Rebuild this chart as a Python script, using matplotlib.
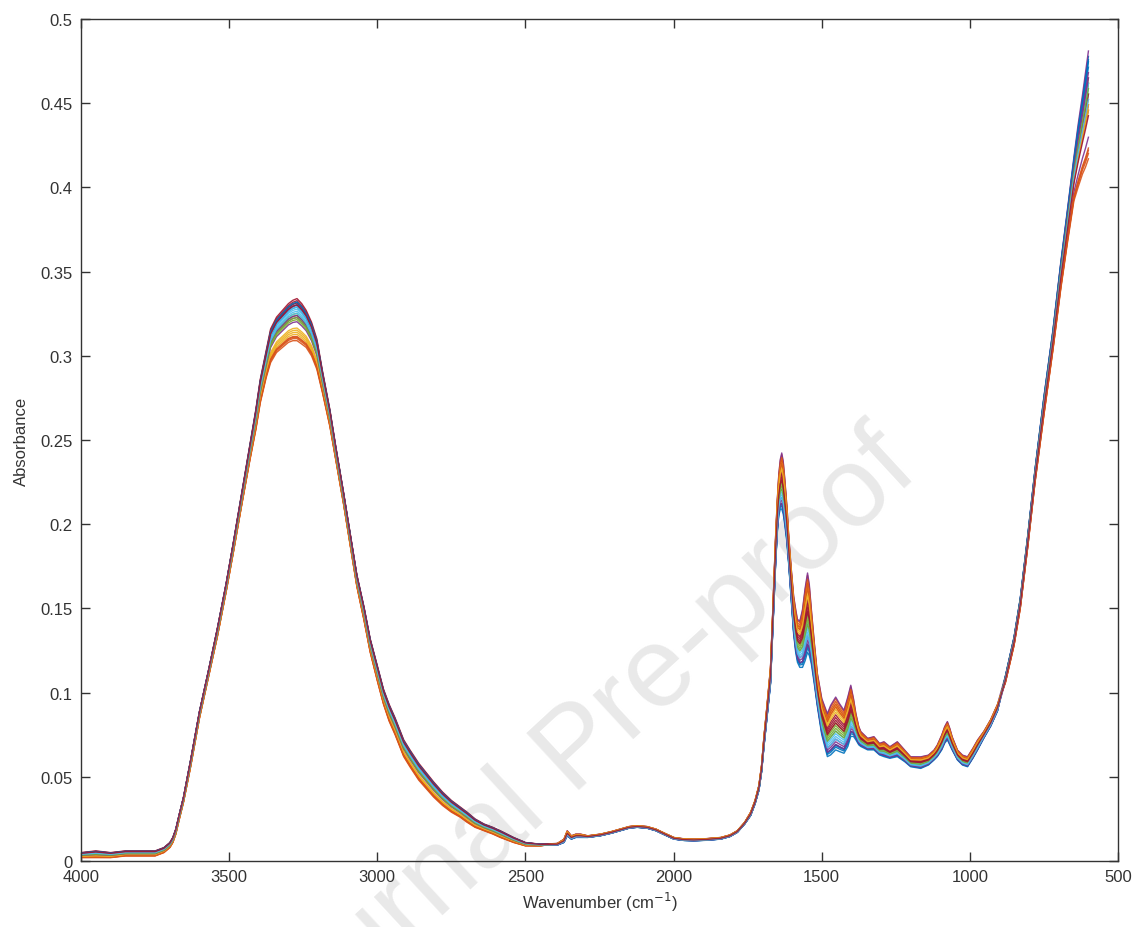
import numpy as np
import matplotlib
matplotlib.use("Agg")
import matplotlib.pyplot as plt

plt.rcParams["font.family"] = ["Liberation Sans", "DejaVu Sans"]

# (wavenumber cm-1, lower envelope, upper envelope) of the spectra bundle
BAND = [
    (4000, 0.002, 0.005), (3950, 0.002, 0.006), (3900, 0.002, 0.005), (3850, 0.003, 0.006),
    (3800, 0.003, 0.006), (3750, 0.003, 0.006), (3720, 0.005, 0.008), (3700, 0.008, 0.011),
    (3690, 0.011, 0.014), (3680, 0.016, 0.019), (3668, 0.025, 0.028), (3654, 0.035, 0.038),
    (3630, 0.056, 0.060), (3600, 0.085, 0.089), (3570, 0.109, 0.113), (3540, 0.133, 0.138),
    (3510, 0.160, 0.165), (3486, 0.183, 0.189), (3460, 0.209, 0.216), (3430, 0.238, 0.247),
    (3410, 0.256, 0.268), (3395, 0.272, 0.286), (3375, 0.287, 0.303), (3360, 0.296, 0.316),
    (3340, 0.302, 0.323), (3320, 0.305, 0.327), (3300, 0.308, 0.331), (3285, 0.309, 0.333),
    (3271, 0.309, 0.334), (3255, 0.307, 0.331), (3240, 0.305, 0.327), (3222, 0.300, 0.320),
    (3204, 0.292, 0.310), (3185, 0.278, 0.291), (3160, 0.258, 0.268), (3140, 0.238, 0.246),
    (3114, 0.212, 0.219), (3090, 0.186, 0.193), (3069, 0.163, 0.170), (3045, 0.143, 0.151),
    (3024, 0.124, 0.132), (3000, 0.107, 0.116), (2979, 0.093, 0.102), (2960, 0.083, 0.093),
    (2940, 0.075, 0.085), (2911, 0.062, 0.072), (2890, 0.056, 0.066), (2860, 0.048, 0.058),
    (2810, 0.038, 0.047), (2780, 0.033, 0.041), (2750, 0.029, 0.036), (2720, 0.026, 0.032),
    (2697, 0.023, 0.029), (2670, 0.020, 0.025), (2640, 0.018, 0.022), (2610, 0.016, 0.020),
    (2585, 0.014, 0.018), (2540, 0.011, 0.014), (2500, 0.009, 0.011), (2450, 0.009, 0.010),
    (2392, 0.0095, 0.0105), (2370, 0.011, 0.013), (2359, 0.015, 0.018), (2345, 0.013, 0.015),
    (2330, 0.014, 0.016), (2314, 0.014, 0.016), (2290, 0.014, 0.015), (2247, 0.015, 0.016),
    (2210, 0.0165, 0.0175), (2180, 0.018, 0.019), (2150, 0.0195, 0.0205), (2123, 0.020, 0.021),
    (2090, 0.0195, 0.0205), (2060, 0.018, 0.019), (2030, 0.0155, 0.0165), (1999, 0.013, 0.014),
    (1965, 0.0122, 0.0132), (1932, 0.012, 0.013), (1890, 0.0123, 0.0133), (1841, 0.013, 0.014),
    (1810, 0.0145, 0.0155), (1785, 0.017, 0.018), (1760, 0.022, 0.023), (1740, 0.027, 0.029),
    (1725, 0.034, 0.036), (1712, 0.042, 0.045), (1703, 0.053, 0.057), (1695, 0.068, 0.074),
    (1685, 0.085, 0.092), (1673, 0.105, 0.115), (1665, 0.138, 0.150), (1656, 0.175, 0.192),
    (1650, 0.195, 0.215), (1645, 0.205, 0.230), (1640, 0.209, 0.239), (1635, 0.209, 0.243),
    (1630, 0.206, 0.238), (1625, 0.200, 0.228), (1618, 0.190, 0.212), (1611, 0.175, 0.192),
    (1603, 0.155, 0.174), (1595, 0.135, 0.158), (1588, 0.124, 0.150), (1582, 0.118, 0.144),
    (1574, 0.115, 0.143), (1565, 0.115, 0.150), (1556, 0.119, 0.163), (1548, 0.124, 0.172),
    (1542, 0.122, 0.165), (1535, 0.117, 0.150), (1525, 0.105, 0.130), (1515, 0.092, 0.112),
    (1500, 0.075, 0.097), (1481, 0.062, 0.088), (1470, 0.063, 0.093), (1453, 0.066, 0.098),
    (1440, 0.065, 0.094), (1425, 0.064, 0.090), (1412, 0.068, 0.098), (1402, 0.074, 0.105),
    (1393, 0.074, 0.097), (1385, 0.072, 0.088), (1375, 0.069, 0.080), (1368, 0.068, 0.077),
    (1345, 0.066, 0.073), (1324, 0.066, 0.074), (1305, 0.063, 0.070), (1290, 0.062, 0.071),
    (1270, 0.061, 0.068), (1245, 0.062, 0.071), (1220, 0.059, 0.066), (1200, 0.056, 0.062),
    (1166, 0.055, 0.062), (1140, 0.057, 0.063), (1121, 0.060, 0.066), (1110, 0.062, 0.069),
    (1095, 0.066, 0.075), (1085, 0.070, 0.080), (1076, 0.072, 0.083), (1068, 0.069, 0.079),
    (1060, 0.066, 0.074), (1042, 0.060, 0.066), (1025, 0.057, 0.063), (1008, 0.056, 0.062),
    (990, 0.061, 0.067), (974, 0.066, 0.072), (953, 0.073, 0.077), (930, 0.080, 0.084),
    (907, 0.089, 0.093), (880, 0.106, 0.110), (851, 0.128, 0.133), (830, 0.150, 0.156),
    (805, 0.186, 0.193), (780, 0.225, 0.233), (750, 0.265, 0.276), (720, 0.303, 0.315),
    (693, 0.340, 0.356), (670, 0.368, 0.388), (649, 0.392, 0.418), (635, 0.400, 0.437),
    (620, 0.408, 0.455), (610, 0.412, 0.468), (600, 0.417, 0.481),
]

# where each sample sits inside the bundle, per spectral region
W_OH = [0.90, 0.05, 0.20, 0.85, 0.60, 0.75, 1.00,
        0.85, 0.00, 0.15, 0.55, 0.65, 0.70, 0.95,
        0.80, 0.10, 0.25, 0.60, 0.55, 0.80, 0.90,
        0.92, 0.08, 0.30, 0.45, 0.50, 0.65, 0.85]
W_FP = [0.05, 0.95, 0.85, 0.98, 0.40, 0.30, 0.60,
        0.00, 0.90, 0.75, 0.15, 0.45, 0.35, 0.65,
        0.10, 0.85, 0.80, 0.20, 0.50, 0.25, 0.55,
        0.08, 0.80, 0.70, 0.10, 0.35, 0.20, 0.50]
W_END = [0.95, 0.05, 0.55, 1.00, 0.75, 0.65, 0.50,
         0.90, 0.00, 0.60, 0.20, 0.70, 0.60, 0.45,
         0.85, 0.08, 0.50, 0.80, 0.70, 0.70, 0.60,
         0.92, 0.10, 0.45, 0.75, 0.65, 0.55, 0.40]
OH_LIMIT, END_LIMIT = 2450, 880

COLORS = ["#0072BD", "#D95319", "#EDB120", "#7E2F8E", "#77AC30", "#4DBEEE", "#A2142F"]

band = np.array(BAND)
wn, low, high = band[:, 0], band[:, 1], band[:, 2]

fig = plt.figure(figsize=(11.36, 9.28), dpi=100)
ax = fig.add_axes([0.0713, 0.0711, 0.9129, 0.9073])
ax.set_facecolor("none")

# watermark, behind the axes
fig.text(0.526, 0.168, "Journal Pre-proof", fontsize=82, color="#e9e9e9",
         rotation=42.7, rotation_mode="anchor", ha="center", va="baseline", zorder=-1)

for i in range(len(W_OH)):
    w = np.where(wn >= OH_LIMIT, W_OH[i], np.where(wn > END_LIMIT, W_FP[i], W_END[i]))
    ax.plot(wn, low + w * (high - low), color=COLORS[i % len(COLORS)], lw=1.0, alpha=0.9)

ax.set_xlim(4000, 500)
ax.set_ylim(0, 0.5)
ax.set_xticks(range(4000, 499, -500))
ax.set_yticks(np.arange(0, 0.51, 0.05))
ax.set_yticklabels(["0", "0.05", "0.1", "0.15", "0.2", "0.25", "0.3", "0.35", "0.4", "0.45", "0.5"])
ax.tick_params(direction="in", length=6.5, width=1, top=True, right=True,
               labelsize=12, colors="#333333", pad=6)
for s in ax.spines.values():
    s.set_color("#333333")
    s.set_linewidth(1)
ax.set_xlabel("Wavenumber (cm$^{-1}$)", fontsize=12, color="#333333", labelpad=4)
ax.set_ylabel("Absorbance", fontsize=12, color="#333333", labelpad=8)

fig.savefig("out.png", dpi=100)
